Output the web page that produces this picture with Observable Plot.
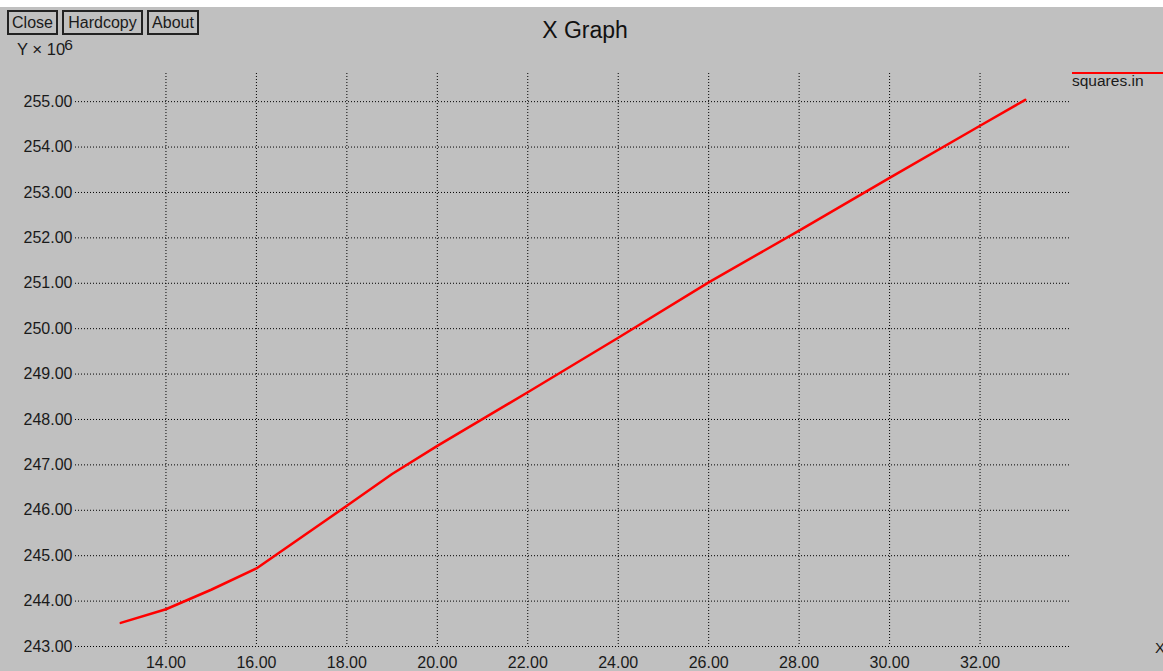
<!DOCTYPE html>
<html>
<head>
<meta charset="utf-8">
<script src="https://cdn.jsdelivr.net/npm/d3@7"></script>
<script src="https://cdn.jsdelivr.net/npm/@observablehq/plot@0.6"></script>
<style>
  html, body { margin: 0; padding: 0; }
  body { width: 1163px; height: 671px; background: #c0c0c0; position: relative; overflow: hidden;
         font-family: "Liberation Sans", Arial, Helvetica, sans-serif; color: #1a1a1a; }
  #chart { position: absolute; left: 0; top: 0; }
  .strip { position: absolute; left: 0; top: 0; width: 1163px; height: 7px; background: #fff; }
  .btn { position: absolute; top: 10px; height: 21px; border: 2px solid #222; box-sizing: content-box;
         font-size: 16px; line-height: 21px; text-align: center; color: #1a1a1a; background: #c0c0c0; }
  .title { position: absolute; top: 17px; left: 0; width: 1170px; text-align: center; font-size: 23px; color: #111; }
  .ylab { position: absolute; left: 17px; top: 40px; font-size: 16.5px; }
  .ylab .times { font-size: 17px; }
  .ylab sup { font-size: 15.5px; position: relative; top: -3px; vertical-align: top; line-height: 1; margin-left: -1px; }
  .xlab { position: absolute; left: 1155px; top: 639px; font-size: 15px; }
  .legline { position: absolute; left: 1072px; top: 72px; width: 91px; height: 2px; background: #f00; }
  .legtext { position: absolute; left: 1072px; top: 72px; font-size: 15.5px; }
</style>
</head>
<body>
<div id="chart"></div>
<div class="strip"></div>
<div class="btn" style="left:7px;width:47px;">Close</div>
<div class="btn" style="left:62px;width:77px;">Hardcopy</div>
<div class="btn" style="left:147px;width:48px;">About</div>
<div class="title">X Graph</div>
<div class="ylab">Y <span class="times">&times;</span> 10<sup>6</sup></div>
<div class="xlab">X</div>
<div class="legline"></div>
<div class="legtext">squares.in</div>
<script>
// Data (y in units of 10^6)
const xs = [13, 14, 15, 16, 18, 19, 20, 22, 24, 26, 28, 30, 32, 33];
const ys = [243.52, 243.82, 244.25, 244.72, 246.10, 246.80, 247.42, 248.60, 249.80, 251.02, 252.16, 253.32, 254.47, 255.04];
const xTicks = [14, 16, 18, 20, 22, 24, 26, 28, 30, 32];
const yTicks = [243, 244, 245, 246, 247, 248, 249, 250, 251, 252, 253, 254, 255];
const seriesName = "squares.in";

const data = xs.map((x, i) => ({x, y: ys[i], series: seriesName}));

const grid = {stroke: "#000", strokeOpacity: 1, strokeWidth: 1, strokeDasharray: "1,2"};

const chart = Plot.plot({
  width: 1163,
  height: 671,
  marginLeft: 75,
  marginRight: 93,
  marginTop: 73,
  marginBottom: 25,
  style: {background: "transparent", fontFamily: "'Liberation Sans', Arial, Helvetica, sans-serif", fontSize: "16px", color: "#1a1a1a"},
  x: {domain: [12, 34]},
  y: {domain: [243, 255.62]},
  marks: [
    Plot.gridX(xTicks, grid),
    Plot.gridY(yTicks, grid),
    Plot.axisX(xTicks, {tickSize: 0, tickPadding: 10, tickFormat: d => d.toFixed(2), label: null}),
    Plot.axisY(yTicks, {tickSize: 0, tickPadding: 3, tickFormat: d => d.toFixed(2), label: null}),
    Plot.line(data, {x: "x", y: "y", stroke: "#ff0000", strokeWidth: 2.5})
  ]
});
document.getElementById("chart").appendChild(chart);
</script>
</body>
</html>
